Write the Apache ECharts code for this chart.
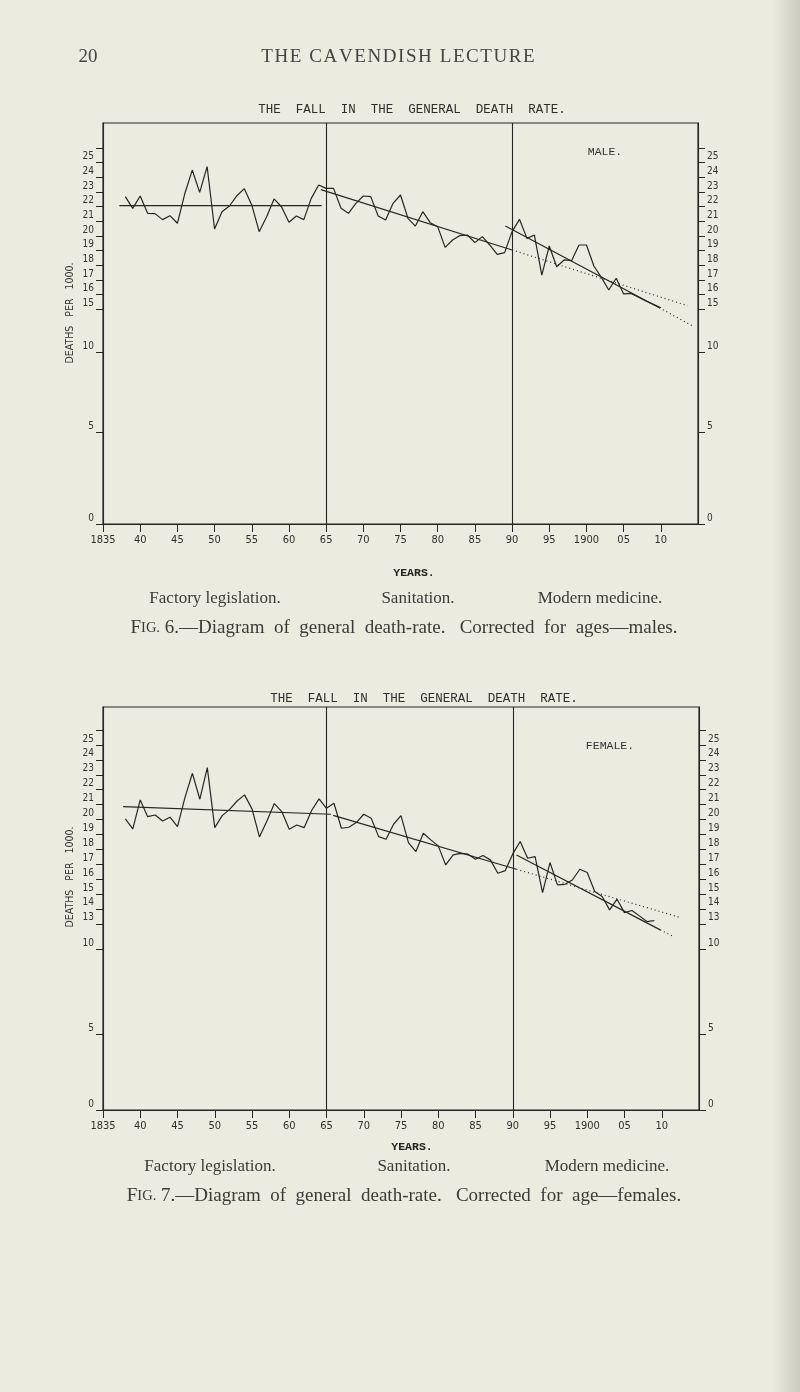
<!DOCTYPE html>
<html><head><meta charset="utf-8">
<script src="https://cdn.jsdelivr.net/npm/echarts@6/dist/echarts.min.js"></script>
<style>html,body{margin:0;padding:0;background:#ecebdf;}#c{width:800px;height:1392px;}</style>
</head><body><div id="c"></div>
<script>
// ---------- data ----------
const maleYears = [1838,1839,1840,1841,1842,1843,1844,1845,1846,1847,1848,1849,1850,1851,1852,1853,1854,1855,1856,1857,1858,1859,1860,1861,1862,1863,1864,1865,1866,1867,1868,1869,1870,1871,1872,1873,1874,1875,1876,1877,1878,1879,1880,1881,1882,1883,1884,1885,1886,1887,1888,1889,1890,1891,1892,1893,1894,1895,1896,1897,1898,1899,1900,1901,1902,1903,1904,1905,1906,1907,1908,1909,1910];
const maleDeaths = [22.69,21.89,22.73,21.55,21.53,21.12,21.39,20.87,22.9,24.50,22.98,24.73,20.48,21.66,22.05,22.75,23.23,22.12,20.30,21.32,22.53,22.0,20.94,21.37,21.12,22.57,23.48,23.25,23.25,21.89,21.55,22.23,22.73,22.69,21.37,21.09,22.23,22.8,21.21,20.68,21.66,20.91,20.64,19.23,19.73,20.03,20.07,19.55,19.96,19.39,18.75,18.87,20.3,21.14,19.84,20.07,17.34,19.32,17.91,18.37,18.32,19.39,19.39,17.96,17.18,16.32,17.12,16.05,16.09,15.82,15.57,15.34,15.11];
const femaleYears = [1838,1839,1840,1841,1842,1843,1844,1845,1846,1847,1848,1849,1850,1851,1852,1853,1854,1855,1856,1857,1858,1859,1860,1861,1862,1863,1864,1865,1866,1867,1868,1869,1870,1871,1872,1873,1874,1875,1876,1877,1878,1879,1880,1881,1882,1883,1884,1885,1886,1887,1888,1889,1890,1891,1892,1893,1894,1895,1896,1897,1898,1899,1900,1901,1902,1903,1904,1905,1906,1907,1908,1909];
const femaleDeaths = [20.04,19.37,21.31,20.19,20.3,19.9,20.15,19.52,21.47,23.1,21.36,23.48,19.45,20.26,20.68,21.24,21.65,20.71,18.83,19.9,21.07,20.53,19.34,19.63,19.45,20.6,21.38,20.75,21.09,19.41,19.48,19.79,20.35,20.08,18.85,18.67,19.68,20.26,18.45,17.85,19.08,18.63,18.23,16.95,17.62,17.73,17.67,17.33,17.58,17.29,16.39,16.57,17.69,18.52,17.4,17.51,15.09,17.11,15.61,15.65,15.94,16.66,16.44,15.16,14.83,13.93,14.65,13.75,13.89,13.53,13.15,13.21];

// trend lines [startYear, startValue, endYear, endValue]
const maleFlat = [1837.2, 22.07, 1864.4, 22.07];
const maleTrend2 = [1864.3, 23.17, 1890, 19.05];
const maleTrend2Dot = [1890, 19.05, 1913.6, 15.25];
const maleTrend3 = [1889.1, 20.68, 1909.8, 15.11];
const maleTrend3Dot = [1909.8, 15.11, 1914.3, 13.86];
const femaleFlat = [1837.7, 20.86, 1865.6, 20.35];
const femaleTrend2 = [1865.9, 20.28, 1890.5, 16.66];
const femaleTrend2Dot = [1890.5, 16.66, 1912.3, 13.45];
const femaleTrend3 = [1890.5, 17.62, 1909.8, 12.59];
const femaleTrend3Dot = [1909.8, 12.59, 1911.6, 12.14];

const periodBreaks = [1865, 1890];
const yearTicks = [1835,1840,1845,1850,1855,1860,1865,1870,1875,1880,1885,1890,1895,1900,1905,1910];
const yearTickLabels = ['1835','40','45','50','55','60','65','70','75','80','85','90','95','1900','05','10'];

// y tick labels (upper, evenly spaced) and the lower labels as printed
const maleUpperTicks = [25,24,23,22,21,20,19,18,17,16,15];
const femaleUpperTicks = [25,24,23,22,21,20,19,18,17,16,15,14,13];
const lowerTickLabels = ['10','5','0'];
const maleLowerTickAt = [12.09, 6.63, 0.36];
const femaleLowerTickAt = [11.3, 5.6, 0.5];

// ---------- helpers ----------
const INK = '#262626';
const pairs = (xs, ys) => xs.map((x, i) => [x, ys[i]]);
const seg = a => [[a[0], a[1]], [a[2], a[3]]];
const sansN = '"Liberation Sans Narrow","DejaVu Sans Condensed","Liberation Sans",sans-serif';
const mono = '"Liberation Mono","DejaVu Sans Mono",monospace';
const serif = '"Liberation Serif","DejaVu Serif",serif';
const spaced = s => s.split('').join('\u200A');

function yAxes(grid, upper, lowerAt, min, max, side) {
  const labelVals = upper.concat(lowerAt);
  const tickVals = [26].concat(labelVals);
  return {
    gridIndex: grid, type: 'value', position: side, min: min, max: max,
    splitLine: {show: false},
    axisLine: {show: true, lineStyle: {color: INK, width: 1.1}},
    axisTick: {show: true, inside: false, length: 7, lineStyle: {color: INK, width: 1}, customValues: tickVals},
    axisLabel: {
      customValues: labelVals, margin: 9, fontSize: 10, color: '#333', fontFamily: sansN,
      verticalAlign: 'bottom', lineHeight: 12,
      formatter: function (v) {
        for (let i = 0; i < lowerAt.length; i++) if (Math.abs(v - lowerAt[i]) < 1e-6) return lowerTickLabels[i];
        return String(Math.round(v));
      }
    }
  };
}
function xAx(grid) {
  return {
    gridIndex: grid, type: 'value', min: 1835, max: 1915,
    splitLine: {show: false},
    axisLine: {show: true, lineStyle: {color: INK, width: 1.2}},
    axisTick: {show: true, length: 8, lineStyle: {color: INK, width: 1}, customValues: yearTicks},
    axisLabel: {
      customValues: yearTicks, margin: 11, fontSize: 11, color: '#2e2e2e', fontFamily: sansN,
      formatter: v => { const i = yearTicks.indexOf(Math.round(v)); return i >= 0 ? yearTickLabels[i] : ''; }
    }
  };
}
function lineS(data, xi, yi, dotted, extra) {
  const s = {
    type: 'line', xAxisIndex: xi, yAxisIndex: yi, data: data, symbol: 'none', silent: true,
    animation: false, lineStyle: {color: INK, width: 1.2, type: dotted ? [1, 3] : 'solid'}
  };
  return Object.assign(s, extra || {});
}
const breaksML = {
  silent: true, symbol: ['none', 'none'], label: {show: false},
  lineStyle: {color: INK, width: 1.1, type: 'solid'},
  data: periodBreaks.map(y => ({xAxis: y}))
};

function txt(text, x, y, size, family, opts) {
  return Object.assign({
    type: 'text', x: x, y: y, silent: true,
    style: Object.assign({text: text, fontSize: size, fontFamily: family, fill: '#333', align: 'center', verticalAlign: 'middle'}, (opts && opts.style) || {})
  }, opts && opts.rotation ? {rotation: opts.rotation} : {});
}
function fig(num, rest, y) {
  return {
    type: 'text', x: 404, y: y, silent: true,
    style: {
      text: '{a|F}{b|IG.} ' + num + '.—' + rest, fontFamily: serif, fontSize: 19, fill: '#3a3a3a',
      align: 'center', verticalAlign: 'middle',
      rich: {a: {fontSize: 19, fontFamily: serif, fill: '#3a3a3a'}, b: {fontSize: 14.5, fontFamily: serif, fill: '#3a3a3a'}}
    }
  };
}

const chart = echarts.init(document.getElementById('c'), null, {renderer: 'canvas'});
chart.setOption({
  backgroundColor: '#ecebdf',
  animation: false,
  grid: [
    {left: 103, top: 123, width: 595, height: 401, show: true, borderColor: INK, borderWidth: 1.2, backgroundColor: 'transparent'},
    {left: 103, top: 707, width: 596, height: 403, show: true, borderColor: INK, borderWidth: 1.2, backgroundColor: 'transparent'}
  ],
  xAxis: [xAx(0), xAx(1)],
  yAxis: [
    yAxes(0, maleUpperTicks, maleLowerTickAt, 0.36, 27.71, 'left'),
    yAxes(0, maleUpperTicks, maleLowerTickAt, 0.36, 27.71, 'right'),
    yAxes(1, femaleUpperTicks, femaleLowerTickAt, 0.5, 27.55, 'left'),
    yAxes(1, femaleUpperTicks, femaleLowerTickAt, 0.5, 27.55, 'right')
  ],
  series: [
    lineS(pairs(maleYears, maleDeaths), 0, 0, false, {markLine: breaksML}),
    lineS(seg(maleFlat), 0, 0, false),
    lineS(seg(maleTrend2), 0, 0, false),
    lineS(seg(maleTrend2Dot), 0, 0, true),
    lineS(seg(maleTrend3), 0, 0, false),
    lineS(seg(maleTrend3Dot), 0, 0, true),
    lineS(pairs(femaleYears, femaleDeaths), 1, 2, false, {markLine: breaksML}),
    lineS(seg(femaleFlat), 1, 2, false),
    lineS(seg(femaleTrend2), 1, 2, false),
    lineS(seg(femaleTrend2Dot), 1, 2, true),
    lineS(seg(femaleTrend3), 1, 2, false),
    lineS(seg(femaleTrend3Dot), 1, 2, true)
  ],
  graphic: [
    {type: 'rect', shape: {x: 772, y: 0, width: 28, height: 1392}, silent: true,
     style: {fill: new echarts.graphic.LinearGradient(0, 0, 1, 0, [{offset: 0, color: 'rgba(200,200,188,0)'}, {offset: 1, color: 'rgba(200,200,188,0.9)'}])}},
    txt('20', 88, 57, 19, serif, {style: {fill: '#444'}}),
    txt(spaced('THE CAVENDISH LECTURE'), 398, 57, 19, serif, {style: {fill: '#444'}}),
    // male
    txt('THE  FALL  IN  THE  GENERAL  DEATH  RATE.', 412, 110, 12.5, mono, {style: {fill: '#2e2e2e'}}),
    txt('MALE.', 605, 152, 11.5, mono, {style: {fill: '#333'}}),
    txt('DEATHS   PER   1000.', 70, 313, 10.5, sansN, {rotation: Math.PI / 2, style: {fill: '#333'}}),
    txt('YEARS.', 414, 573, 11.5, mono, {style: {fill: '#222', fontWeight: 'bold'}}),
    txt('Factory legislation.', 215, 599, 17, serif, {style: {fill: '#3a3a3a'}}),
    txt('Sanitation.', 418, 599, 17, serif, {style: {fill: '#3a3a3a'}}),
    txt('Modern medicine.', 600, 599, 17, serif, {style: {fill: '#3a3a3a'}}),
    fig(6, 'Diagram  of  general  death-rate.   Corrected  for  ages—males.', 628),
    // female
    txt('THE  FALL  IN  THE  GENERAL  DEATH  RATE.', 424, 699, 12.5, mono, {style: {fill: '#2e2e2e'}}),
    txt('FEMALE.', 610, 746, 11.5, mono, {style: {fill: '#333'}}),
    txt('DEATHS   PER   1000.', 70, 877, 10.5, sansN, {rotation: Math.PI / 2, style: {fill: '#333'}}),
    txt('YEARS.', 412, 1147, 11.5, mono, {style: {fill: '#222', fontWeight: 'bold'}}),
    txt('Factory legislation.', 210, 1167, 17, serif, {style: {fill: '#3a3a3a'}}),
    txt('Sanitation.', 414, 1167, 17, serif, {style: {fill: '#3a3a3a'}}),
    txt('Modern medicine.', 607, 1167, 17, serif, {style: {fill: '#3a3a3a'}}),
    fig(7, 'Diagram  of  general  death-rate.   Corrected  for  age—females.', 1196)
  ]
});
</script></body></html>
